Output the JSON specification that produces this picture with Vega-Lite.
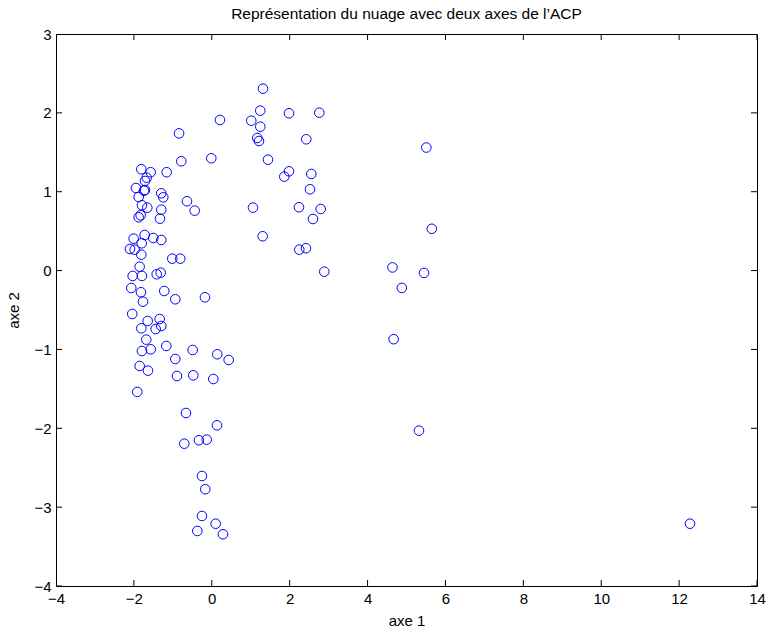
{
  "$schema": "https://vega.github.io/schema/vega-lite/v6.json",
  "width": 701,
  "height": 552,
  "autosize": {"type": "none"},
  "padding": {"left": 56, "top": 34, "right": 13, "bottom": 49},
  "background": "white",
  "title": {"text": "Représentation du nuage avec deux axes de l’ACP", "font": "Liberation Sans", "fontSize": 15.5, "fontWeight": "normal", "color": "black", "offset": 5},
  "config": {
    "view": {"stroke": "black", "strokeWidth": 1},
    "axis": {"grid": false, "domain": false, "ticks": false, "tickSize": 0, "labelColor": "black", "titleColor": "black", "labelFont": "Liberation Sans", "titleFont": "Liberation Sans", "labelFontSize": 15, "titleFontSize": 15, "titleFontWeight": "normal", "labelFlush": false, "labelOverlap": false}
  },
  "datasets": {
    "xticks": [{"v": -4}, {"v": -2}, {"v": 0}, {"v": 2}, {"v": 4}, {"v": 6}, {"v": 8}, {"v": 10}, {"v": 12}, {"v": 14}],
    "yticks": [{"v": -4}, {"v": -3}, {"v": -2}, {"v": -1}, {"v": 0}, {"v": 1}, {"v": 2}, {"v": 3}]
  },
  "layer": [
    {
      "data": {"values": [
        {"x": 1.315, "y": 2.307}, {"x": 1.245, "y": 2.028}, {"x": 1.983, "y": 1.995}, {"x": 2.761, "y": 2.002},
        {"x": 1.014, "y": 1.901}, {"x": 1.245, "y": 1.825}, {"x": 1.168, "y": 1.681}, {"x": 1.212, "y": 1.643},
        {"x": 2.427, "y": 1.665}, {"x": 1.443, "y": 1.406}, {"x": 1.983, "y": 1.259}, {"x": 1.862, "y": 1.191},
        {"x": 2.555, "y": 1.225}, {"x": 2.522, "y": 1.031}, {"x": 1.058, "y": 0.798}, {"x": 2.239, "y": 0.803},
        {"x": 2.797, "y": 0.781}, {"x": 2.599, "y": 0.654}, {"x": 1.307, "y": 0.435}, {"x": 2.247, "y": 0.265},
        {"x": 2.419, "y": 0.283}, {"x": 2.889, "y": -0.014}, {"x": 0.21, "y": 1.91},
        {"x": -1.81, "y": 1.285}, {"x": -1.569, "y": 1.247}, {"x": -1.158, "y": 1.247}, {"x": -0.783, "y": 1.386},
        {"x": -0.013, "y": 1.424}, {"x": -1.672, "y": 1.178}, {"x": -1.715, "y": 1.136}, {"x": -1.947, "y": 1.047},
        {"x": -1.715, "y": 1.022}, {"x": -1.741, "y": 1.013}, {"x": -1.877, "y": 0.933}, {"x": -1.297, "y": 0.98},
        {"x": -1.245, "y": 0.929}, {"x": -0.637, "y": 0.879}, {"x": -0.439, "y": 0.76}, {"x": -1.793, "y": 0.828},
        {"x": -1.656, "y": 0.798}, {"x": -1.297, "y": 0.772}, {"x": -1.826, "y": 0.701}, {"x": -1.877, "y": 0.676},
        {"x": -1.33, "y": 0.658}, {"x": -1.723, "y": 0.451}, {"x": -2.006, "y": 0.405}, {"x": -1.502, "y": 0.413},
        {"x": -1.297, "y": 0.388}, {"x": -1.8, "y": 0.346}, {"x": -2.101, "y": 0.274}, {"x": -1.98, "y": 0.265},
        {"x": -1.81, "y": 0.202}, {"x": -1.014, "y": 0.151}, {"x": -0.809, "y": 0.151}, {"x": -1.852, "y": 0.049},
        {"x": -2.031, "y": -0.068}, {"x": -1.793, "y": -0.068}, {"x": -1.415, "y": -0.047}, {"x": -1.312, "y": -0.027},
        {"x": -0.84, "y": 1.74},
        {"x": -2.067, "y": -0.221}, {"x": -1.818, "y": -0.275}, {"x": -1.22, "y": -0.259}, {"x": -0.937, "y": -0.364},
        {"x": -0.175, "y": -0.339}, {"x": -1.767, "y": -0.394}, {"x": -2.042, "y": -0.55}, {"x": -1.646, "y": -0.639},
        {"x": -1.338, "y": -0.614}, {"x": -1.81, "y": -0.732}, {"x": -1.441, "y": -0.741}, {"x": -1.297, "y": -0.703},
        {"x": -1.682, "y": -0.876}, {"x": -1.793, "y": -1.02}, {"x": -1.569, "y": -0.998}, {"x": -1.168, "y": -0.956},
        {"x": -0.49, "y": -1.007}, {"x": -0.937, "y": -1.121}, {"x": 0.141, "y": -1.061}, {"x": 0.434, "y": -1.134},
        {"x": -1.852, "y": -1.21}, {"x": -1.638, "y": -1.269}, {"x": -0.894, "y": -1.337}, {"x": -0.475, "y": -1.328},
        {"x": 0.039, "y": -1.375}, {"x": -1.913, "y": -1.539},
        {"x": -0.663, "y": -1.806}, {"x": 0.134, "y": -1.962}, {"x": -0.706, "y": -2.195}, {"x": -0.329, "y": -2.152},
        {"x": -0.131, "y": -2.144}, {"x": -0.252, "y": -2.605}, {"x": -0.167, "y": -2.773}, {"x": -0.252, "y": -3.112},
        {"x": 0.1, "y": -3.21}, {"x": -0.372, "y": -3.302}, {"x": 0.288, "y": -3.344},
        {"x": 5.51, "y": 1.56}, {"x": 5.65, "y": 0.53}, {"x": 4.64, "y": 0.04}, {"x": 5.45, "y": -0.03},
        {"x": 4.88, "y": -0.22}, {"x": 4.67, "y": -0.87}, {"x": 5.32, "y": -2.03}, {"x": 12.28, "y": -3.21}
      ]},
      "mark": {"type": "point", "shape": "circle", "filled": false, "color": "#0000ff", "size": 92, "strokeWidth": 1, "opacity": 1},
      "encoding": {
        "x": {"field": "x", "type": "quantitative", "title": "axe 1", "scale": {"domain": [-4, 14], "nice": false, "zero": false}, "axis": {"orient": "bottom", "values": [-4, -2, 0, 2, 4, 6, 8, 10, 12, 14], "format": "d", "title": "axe 1", "labelPadding": 5, "titlePadding": 7}},
        "y": {"field": "y", "type": "quantitative", "title": "axe 2", "scale": {"domain": [-4, 3], "nice": false, "zero": false}, "axis": {"orient": "left", "values": [-4, -3, -2, -1, 0, 1, 2, 3], "format": "d", "title": "axe 2", "labelPadding": 5, "titlePadding": 12}}
      }
    },
    {
      "data": {"name": "xticks"},
      "mark": {"type": "tick", "orient": "vertical", "size": 12, "thickness": 1, "color": "black", "clip": true, "opacity": 1},
      "encoding": {"x": {"field": "v", "type": "quantitative", "title": "axe 1"}, "y": {"datum": -4, "type": "quantitative", "title": "axe 2"}}
    },
    {
      "data": {"name": "xticks"},
      "mark": {"type": "tick", "orient": "vertical", "size": 12, "thickness": 1, "color": "black", "clip": true, "opacity": 1},
      "encoding": {"x": {"field": "v", "type": "quantitative", "title": "axe 1"}, "y": {"datum": 3, "type": "quantitative", "title": "axe 2"}}
    },
    {
      "data": {"name": "yticks"},
      "mark": {"type": "tick", "orient": "horizontal", "size": 12, "thickness": 1, "color": "black", "clip": true, "opacity": 1},
      "encoding": {"y": {"field": "v", "type": "quantitative", "title": "axe 2"}, "x": {"datum": -4, "type": "quantitative", "title": "axe 1"}}
    },
    {
      "data": {"name": "yticks"},
      "mark": {"type": "tick", "orient": "horizontal", "size": 12, "thickness": 1, "color": "black", "clip": true, "opacity": 1},
      "encoding": {"y": {"field": "v", "type": "quantitative", "title": "axe 2"}, "x": {"datum": 14, "type": "quantitative", "title": "axe 1"}}
    }
  ]
}
